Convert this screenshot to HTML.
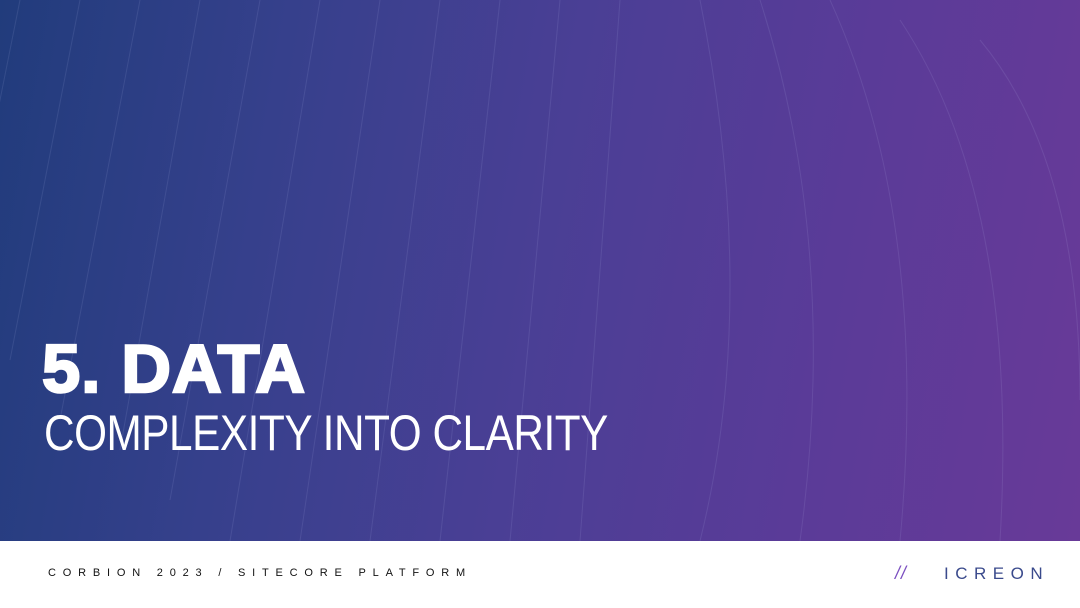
<!DOCTYPE html>
<html><head><meta charset="utf-8"><style>
html,body{margin:0;padding:0}
body{width:1080px;height:608px;position:relative;overflow:hidden;font-family:"Liberation Sans",sans-serif;background:#fff}
.bg{position:absolute;left:0;top:0;width:1080px;height:541px;background:linear-gradient(100deg,#213c7c 0%,#36408c 25%,#4a3f95 50%,#5a3b98 75%,#683a98 100%)}
.t1{position:absolute;left:42px;top:330px;font-size:68px;font-weight:900;color:#fff;letter-spacing:1px;-webkit-text-stroke:2.5px #fff;transform:scaleX(1.01);transform-origin:0 0;white-space:nowrap}
.t2{position:absolute;left:44px;top:404px;font-size:50px;font-weight:300;color:#fff;letter-spacing:-0.5px;transform:scaleX(0.845);transform-origin:0 0;white-space:nowrap}
.foot{position:absolute;left:48px;top:567px;font-size:11px;letter-spacing:6.8px;color:#111;white-space:nowrap}
.logo{position:absolute;left:944px;top:564px;font-size:17px;letter-spacing:6.5px;color:#3a4a8c}
.sl{position:absolute;left:895px;top:563px;font-size:18px;color:#7b4fc0;letter-spacing:1px;font-style:italic}
</style></head><body>
<div class="bg">
<svg width="1080" height="541" style="position:absolute;left:0;top:0;opacity:0.1">
<g stroke="#cfd6ff" stroke-width="1" fill="none">
<path d="M20 0 L-40 300"/><path d="M80 0 L10 360"/><path d="M140 0 L60 420"/><path d="M200 0 L120 450"/><path d="M260 0 L170 500"/><path d="M320 0 L230 541"/><path d="M380 0 L300 541"/><path d="M440 0 L370 541"/><path d="M500 0 L440 541"/><path d="M560 0 L510 541"/><path d="M620 0 L580 541"/>
<path d="M700 0 Q760 300 700 541"/><path d="M760 0 Q840 250 800 541"/><path d="M830 0 Q930 220 900 541"/><path d="M900 20 Q1020 200 1000 541"/><path d="M980 40 Q1080 160 1080 400"/>
</g></svg>
</div>
<div class="t1">5. DATA</div>
<div class="t2">COMPLEXITY INTO CLARITY</div>
<div class="foot">CORBION 2023 / SITECORE PLATFORM</div>
<div class="sl">//</div>
<div class="logo">ICREON</div>
</body></html>
